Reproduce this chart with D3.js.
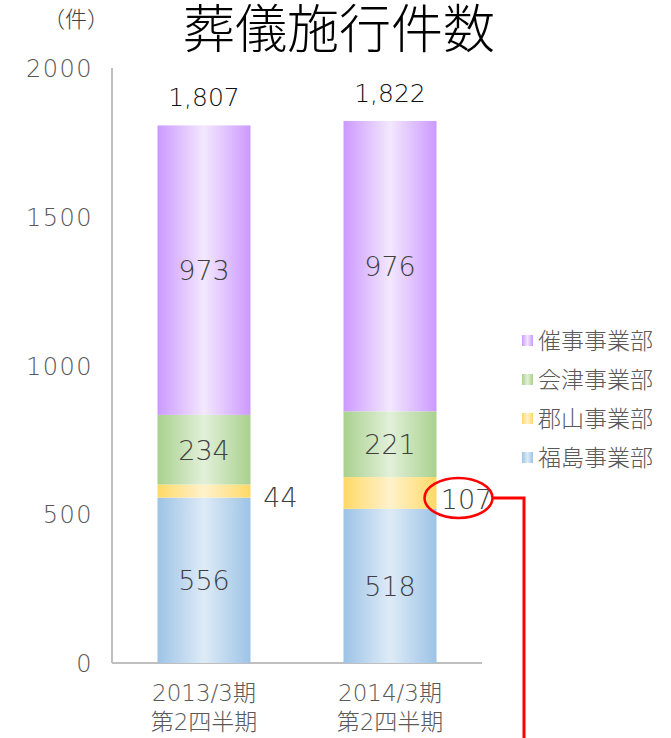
<html>
<head>
<meta charset="utf-8">
<script src="https://cdn.jsdelivr.net/npm/d3@7/dist/d3.min.js"></script>
<style>
body { margin: 0; background: #fff; }
text { font-family: "Noto Sans CJK JP", "Noto Sans", sans-serif; }
.num { font-family: "DejaVu Sans", "Noto Sans CJK JP", sans-serif; font-weight: 200; }
</style>
</head>
<body>
<script>
// data
var periods = ["2013/3期\n第2四半期", "2014/3期\n第2四半期"]
var seriesNames = ["福島事業部", "郡山事業部", "会津事業部", "催事事業部"]
var fukushima = [556, 518]
var koriyama = [44, 107]
var aizu = [234, 221]
var saiji = [973, 976]
var totals = ["1,807", "1,822"]
var yTicks = [0, 500, 1000, 1500, 2000]

var edge = ["#9dc3e6", "#ffd966", "#a9d18e", "#cc99ff"]
var mid = ["#deebf7", "#fff2cc", "#e2f0d9", "#f3e8fd"]

var W = 671, H = 738
var svg = d3.select("body").append("svg").attr("width", W).attr("height", H)

var y = d3.scaleLinear().domain([0, 2000]).range([663, 68])
// bars are ~93px wide with centres at 204 and 390
var x = d3.scalePoint().domain(periods).range([204, 390])
var bw = 93

var defs = svg.append("defs")
seriesNames.forEach(function (s, i) {
  var g = defs.append("linearGradient").attr("id", "g" + i)
    .attr("x1", "0%").attr("x2", "100%").attr("y1", "0%").attr("y2", "0%")
  g.append("stop").attr("offset", "0%").attr("stop-color", edge[i])
  g.append("stop").attr("offset", "50%").attr("stop-color", mid[i])
  g.append("stop").attr("offset", "100%").attr("stop-color", edge[i])
})

var rows = periods.map(function (p, i) {
  return { period: p, "福島事業部": fukushima[i], "郡山事業部": koriyama[i], "会津事業部": aizu[i], "催事事業部": saiji[i] }
})
var stacked = d3.stack().keys(seriesNames)(rows)

// title
svg.append("text").attr("x", 339).attr("y", 48).attr("text-anchor", "middle")
  .attr("font-size", 52).attr("font-weight", 300).attr("fill", "#000").text("葬儀施行件数")
svg.append("text").attr("x", 76).attr("y", 27).attr("text-anchor", "middle")
  .attr("font-size", 22).attr("font-weight", 300).attr("fill", "#404040").text("（件）")

// axes
svg.append("line").attr("x1", 112).attr("x2", 112).attr("y1", y(2000)).attr("y2", y(0))
  .attr("stroke", "#bfbfbf").attr("stroke-width", 2)
svg.append("line").attr("x1", 112).attr("x2", 482).attr("y1", y(0)).attr("y2", y(0))
  .attr("stroke", "#bfbfbf").attr("stroke-width", 2)

svg.selectAll(".ytick").data(yTicks).enter().append("text").attr("class", "num")
  .attr("x", 93).attr("y", function (d) { return y(d) + 9 })
  .attr("text-anchor", "end").attr("font-size", 24).attr("fill", "#595959")
  .attr("letter-spacing", 1.5)
  .text(function (d) { return d })

// bars
stacked.forEach(function (layer, i) {
  svg.selectAll(".s" + i).data(layer).enter().append("rect")
    .attr("x", function (d) { return x(d.data.period) - bw / 2 })
    .attr("width", bw)
    .attr("y", function (d) { return y(d[1]) })
    .attr("height", function (d) { return y(d[0]) - y(d[1]) })
    .attr("fill", "url(#g" + i + ")")
})

function segLabel(sel) {
  sel.attr("class", "num").attr("text-anchor", "middle").attr("font-size", 27)
    .attr("fill", "#404040")
}

// segment labels
stacked.forEach(function (layer, i) {
  if (i == 1) return
  svg.selectAll(".l" + i).data(layer).enter().append("text").call(segLabel)
    .attr("x", function (d) { return x(d.data.period) })
    .attr("y", function (d) { return y((d[0] + d[1]) / 2) + 10 })
    .text(function (d) { return d[1] - d[0] })
})
// small segment labels sit right of the bars, a little below centre
svg.selectAll(".lk").data(stacked[1]).enter().append("text").call(segLabel)
  .attr("x", function (d) { return x(d.data.period) + bw / 2 + 30 })
  .attr("y", function (d) { return y((d[0] + d[1]) / 2) + 16 })
  .text(function (d) { return d[1] - d[0] })

// totals
svg.selectAll(".tot").data(stacked[3]).enter().append("text").call(segLabel)
  .attr("fill", "#111").attr("font-size", 25)
  .attr("x", function (d) { return x(d.data.period) })
  .attr("y", function (d) { return y(d[1]) - 19 })
  .text(function (d, i) { return totals[i] })

// category labels
periods.forEach(function (p) {
  var lines = p.split("\n")
  lines.forEach(function (l, j) {
    svg.append("text").attr("class", "num").attr("x", x(p)).attr("y", 701 + j * 29)
      .attr("text-anchor", "middle").attr("font-size", 23).attr("fill", "#595959")
      .text(l)
  })
})

// legend (reverse order, top is 催事)
var legend = seriesNames.slice().reverse()
legend.forEach(function (s, j) {
  var i = seriesNames.indexOf(s)
  var ly = 340 + j * 39
  svg.append("rect").attr("x", 522).attr("y", ly - 5).attr("width", 11).attr("height", 11)
    .attr("fill", "url(#g" + i + ")")
  svg.append("text").attr("x", 538).attr("y", ly + 9).attr("font-size", 23)
    .attr("font-weight", 300).attr("fill", "#595959").text(s)
})

// red callout around 107
var d107 = stacked[1][1]
var cx = x(d107.data.period) + bw / 2 + 22, cy = y((d107[0] + d107[1]) / 2) + 5
svg.append("ellipse").attr("cx", cx).attr("cy", cy).attr("rx", 34).attr("ry", 20)
  .attr("fill", "none").attr("stroke", "#ff0000").attr("stroke-width", 2.5)
svg.append("path").attr("d", "M" + (cx + 34) + "," + cy + "H524V" + H)
  .attr("fill", "none").attr("stroke", "#ff0000").attr("stroke-width", 3)
</script>
</body>
</html>
